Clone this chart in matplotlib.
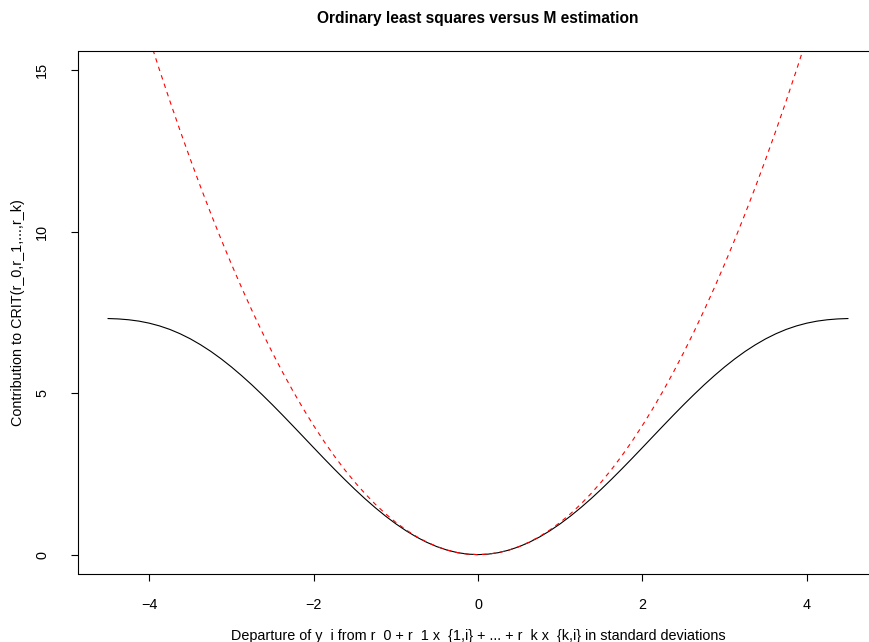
import matplotlib
matplotlib.use("Agg")
import matplotlib.pyplot as plt

# departure in standard deviations (right half, mirrored below)
half_x = [0.0, 0.125, 0.25, 0.375, 0.5, 0.625, 0.75, 0.875, 1.0, 1.125, 1.25,
          1.375, 1.5, 1.625, 1.75, 1.875, 2.0, 2.125, 2.25, 2.375, 2.5, 2.625,
          2.75, 2.875, 3.0, 3.125, 3.25, 3.375, 3.5, 3.625, 3.75, 3.875, 4.0,
          4.125, 4.25, 4.375, 4.5]
# M estimation contribution (black solid)
half_m = [0.0, 0.0156, 0.062, 0.1397, 0.247, 0.3837, 0.548, 0.7392, 0.955,
          1.194, 1.454, 1.732, 2.027, 2.336, 2.655, 2.982, 3.315, 3.650, 3.984,
          4.315, 4.639, 4.953, 5.256, 5.543, 5.814, 6.065, 6.295, 6.501, 6.685,
          6.843, 6.977, 7.085, 7.170, 7.233, 7.275, 7.301, 7.313]
# least squares contribution (red dashed)
half_ls = [0.0, 0.015625, 0.0625, 0.140625, 0.25, 0.390625, 0.5625, 0.765625,
           1.0, 1.265625, 1.5625, 1.890625, 2.25, 2.640625, 3.0625, 3.515625,
           4.0, 4.515625, 5.0625, 5.640625, 6.25, 6.890625, 7.5625, 8.265625,
           9.0, 9.765625, 10.5625, 11.390625, 12.25, 13.140625, 14.0625,
           15.015625, 16.0, 17.015625, 18.0625, 19.140625, 20.25]

x = [-v for v in half_x[:0:-1]] + half_x
m_est = half_m[:0:-1] + half_m
ols = half_ls[:0:-1] + half_ls

x_ticks = [-4, -2, 0, 2, 4]
y_ticks = [0, 5, 10, 15]

plt.rcParams["font.family"] = ["Liberation Sans", "DejaVu Sans"]
W, H = 870, 642
fig = plt.figure(figsize=(W / 100, H / 100), dpi=100)
# plot region, right edge runs past the picture like the reference
ax = fig.add_axes([78.5 / W, 1 - 574 / H, 799 / W, 523 / H])

ax.plot(x, m_est, color="black", lw=0.8)
ax.plot(x, ols, color="red", lw=0.8, linestyle=(0, (4, 4)))

ax.set_xlim(-4.86, 4.86)
ax.set_ylim(-0.6, 15.6)
ax.set_xticks(x_ticks)
ax.set_xticklabels(["\u22124", "\u22122", "0", "2", "4"])
ax.set_yticks(y_ticks)
ax.set_yticklabels([str(v) for v in y_ticks], rotation=90, va="center")
ax.tick_params(axis="both", length=5, width=0.8, labelsize=10.4)
ax.tick_params(axis="x", pad=12)
ax.tick_params(axis="y", pad=16)
for s in ax.spines.values():
    s.set_linewidth(0.8)

ax.set_title("Ordinary least squares versus M estimation",
             fontsize=11.2, fontweight="bold", pad=0, y=1 + (51 - 18 - 5) / 523)
fig.text(478 / W, 1 - 640 / H,
         "Departure of y_i from r_0 + r_1 x_{1,i} + ... + r_k x_{k,i} in standard deviations",
         ha="center", va="baseline", fontsize=10.4)
fig.text(18 / W, 1 - 312.5 / H, "Contribution to CRIT(r_0,r_1,...,r_k)",
         ha="center", va="center", rotation=90, fontsize=10.4)

fig.savefig("out.png", dpi=100)
